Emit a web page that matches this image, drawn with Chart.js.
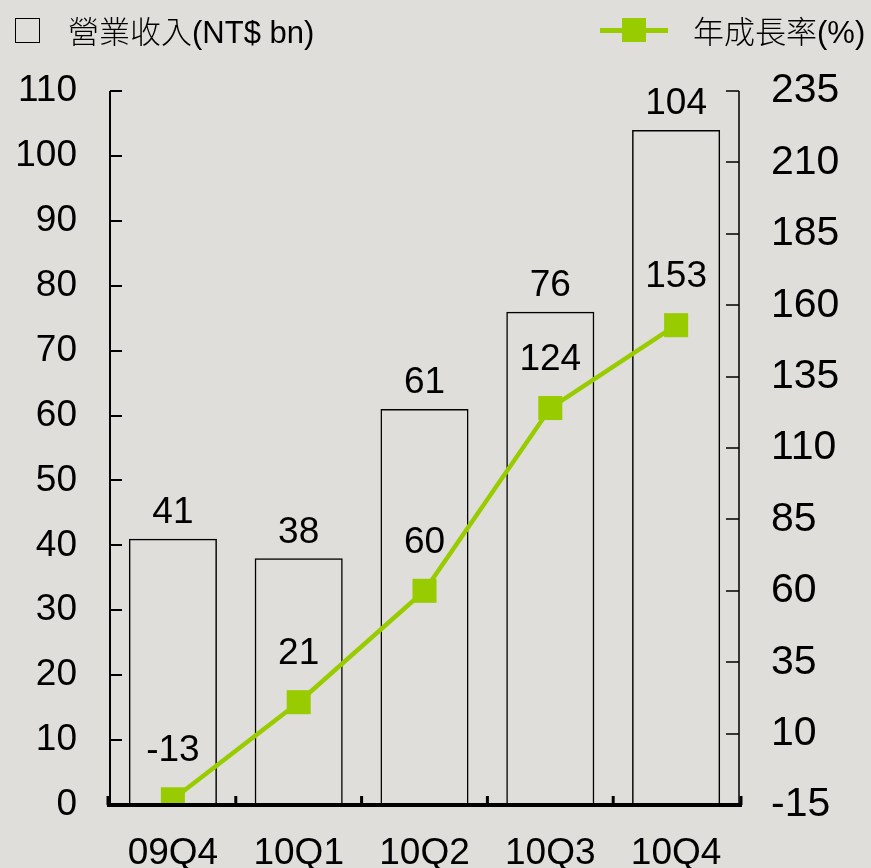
<!DOCTYPE html>
<html>
<head>
<meta charset="utf-8">
<script src="https://cdn.jsdelivr.net/npm/chart.js@4"></script>
<style>
    body { margin: 0; background: #dfdeda; }
    #wrap { position: relative; width: 871px; height: 868px; }
    .legend { position: absolute; top: 12px; font: 31px "Liberation Sans", "Noto Sans CJK TC", sans-serif; color: #000; line-height: 36px; }
    .legend .cjk { font-family: "Noto Sans CJK TC", sans-serif; font-weight: 300; }
    #legBar { left: 15px; }
    #legBar .box { position: absolute; left: 0; top: 6px; width: 23px; height: 23px; border: 1.5px solid #000; }
    #legBar .txt { position: absolute; left: 53px; top: 0; white-space: nowrap; }
    #legLine { left: 600px; }
    #legLine .ln { position: absolute; left: 0; top: 16px; width: 68px; height: 5px; background: #99cc00; }
    #legLine .mk { position: absolute; left: 22px; top: 6px; width: 24px; height: 24px; background: #99cc00; }
    #legLine .txt { position: absolute; left: 93px; top: 0; white-space: nowrap; }
</style>
</head>
<body>
<div id="wrap">
    <canvas id="revChart" width="871" height="868"></canvas>
    <div class="legend" id="legBar"><div class="box"></div><div class="txt"><span class="cjk">營業收入</span>(NT$ bn)</div></div>
    <div class="legend" id="legLine"><div class="ln"></div><div class="mk"></div><div class="txt"><span class="cjk">年成長率</span>(%)</div></div>
</div>
<script>
    // data
    const quarters = ['09Q4', '10Q1', '10Q2', '10Q3', '10Q4'];
    const revenue = [41, 38, 61, 76, 104];      // NT$ bn
    const yoyGrowth = [-13, 21, 60, 124, 153];  // %

    const GREEN = '#99cc00';
    const FONT = '"Liberation Sans", Arial, sans-serif';

    // axis lines, inward ticks and value labels
    const axisDecor = {
        id: 'axisDecor',
        afterDatasetsDraw(chart) {
            const ctx = chart.ctx;
            const area = chart.chartArea;
            const x = chart.scales.x, y = chart.scales.y, y1 = chart.scales.y1;
            ctx.save();
            ctx.strokeStyle = '#000';

            // left axis
            ctx.lineWidth = 2;
            ctx.beginPath();
            ctx.moveTo(area.left, area.top);
            ctx.lineTo(area.left, area.bottom);
            y.ticks.forEach(t => {
                const py = Math.round(y.getPixelForValue(t.value));
                ctx.moveTo(area.left, py);
                ctx.lineTo(area.left + 12, py);
            });
            ctx.stroke();

            // right axis
            ctx.lineWidth = 1.5;
            ctx.beginPath();
            ctx.moveTo(area.right, area.top);
            ctx.lineTo(area.right, area.bottom);
            y1.ticks.forEach(t => {
                const py = Math.round(y1.getPixelForValue(t.value));
                ctx.moveTo(area.right, py);
                ctx.lineTo(area.right - 13, py);
            });
            ctx.stroke();

            // bottom axis, thick, with little up ticks between categories
            ctx.lineWidth = 4;
            ctx.beginPath();
            ctx.moveTo(area.left - 3, area.bottom);
            ctx.lineTo(area.right + 3, area.bottom);
            ctx.stroke();
            ctx.lineWidth = 3;
            ctx.beginPath();
            for (let i = 0; i <= quarters.length; i++) {
                const px = i === 0 ? area.left - 2 : i === quarters.length ? area.right + 2
                    : (x.getPixelForValue(i - 1) + x.getPixelForValue(i)) / 2;
                ctx.moveTo(px, area.bottom);
                ctx.lineTo(px, area.bottom - 9);
            }
            ctx.stroke();

            // value labels
            ctx.fillStyle = '#000';
            ctx.font = '37px ' + FONT;
            ctx.textAlign = 'center';
            ctx.textBaseline = 'middle';
            chart.getDatasetMeta(0).data.forEach((bar, i) => {
                ctx.fillText(revenue[i], bar.x, bar.y - 26);
            });
            chart.getDatasetMeta(1).data.forEach((pt, i) => {
                ctx.fillText(yoyGrowth[i], pt.x, pt.y - 48);
            });
            ctx.restore();
        }
    };

    new Chart(document.getElementById('revChart'), {
        data: {
            labels: quarters,
            datasets: [{
                type: 'bar',
                label: '營業收入(NT$ bn)',
                data: revenue,
                yAxisID: 'y',
                backgroundColor: 'rgba(0,0,0,0)',
                borderColor: '#000',
                borderWidth: 1.5,
                barPercentage: 0.7,
                categoryPercentage: 1,
                order: 2
            }, {
                type: 'line',
                label: '年成長率(%)',
                data: yoyGrowth,
                yAxisID: 'y1',
                borderColor: GREEN,
                backgroundColor: GREEN,
                borderWidth: 4.5,
                pointStyle: 'rect',
                pointRadius: 17,
                pointHoverRadius: 17,
                pointBorderWidth: 0,
                order: 1
            }]
        },
        options: {
            responsive: false,
            animation: false,
            layout: { padding: { left: 0, right: 0, top: 91, bottom: 0 } },
            plugins: {
                legend: { display: false },
                tooltip: { enabled: false }
            },
            scales: {
                x: {
                    grid: { display: false, drawTicks: false },
                    border: { display: false },
                    ticks: { color: '#000', font: { family: FONT, size: 37 }, padding: 27 },
                    afterFit: s => { s.height = 63; }
                },
                y: {
                    position: 'left',
                    min: 0, max: 110,
                    grid: { display: false, drawTicks: false },
                    border: { display: false },
                    ticks: { stepSize: 10, color: '#000', font: { family: FONT, size: 37 }, padding: 33 },
                    afterFit: s => { s.width = 110; }
                },
                y1: {
                    position: 'right',
                    min: -15, max: 235,
                    grid: { display: false, drawTicks: false },
                    border: { display: false },
                    ticks: { stepSize: 25, color: '#000', font: { family: FONT, size: 41 }, padding: 32 },
                    afterFit: s => { s.width = 132; }
                }
            }
        },
        plugins: [axisDecor]
    });
</script>
</body>
</html>
